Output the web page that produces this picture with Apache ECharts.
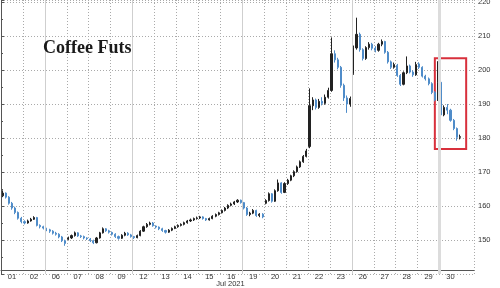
<!DOCTYPE html>
<html>
<head>
<meta charset="utf-8">
<script src="https://cdn.jsdelivr.net/npm/echarts@6/dist/echarts.min.js"></script>
<style>html,body{margin:0;padding:0;background:#fff}#c{width:500px;height:288px}</style>
</head>
<body>
<div id="c"></div>
<script>
// trading days of July 2021 (x-axis labels)
const days = ['01','02','06','07','08','09','12','13','14','15','16','19','20','21','22','23','26','27','28','29','30'];
// y-axis tick labels
const yTicks = [150,160,170,180,190,200,210,220];
const lastPrice = 180.40;

// intraday candles per day: [open, close, low, high]
const jul01 = [[163.0,163.8,162.6,164.6],[163.8,162.6,162.2,164.0],[162.6,160.8,160.4,162.9],[160.8,159.4,158.9,161.2],[159.4,158.1,157.6,159.8],[158.1,156.4,156.0,158.4],[156.4,155.4,154.9,156.8]];
const jul02 = [[155.4,155.0,154.6,155.8],[155.0,155.6,154.8,156.0],[155.6,156.1,155.4,156.5],[156.1,156.6,155.9,157.0],[156.6,154.3,154.0,156.8],[154.3,153.9,153.4,154.6],[153.9,153.5,153.1,154.2]];
const jul06 = [[153.3,153.0,152.6,153.6],[153.0,152.6,152.1,153.3],[152.6,152.0,151.6,152.9],[152.0,151.7,151.3,152.4],[151.7,150.9,150.5,152.0],[150.9,149.8,149.4,151.2],[149.8,149.0,148.3,150.1]];
const jul07 = [[150.2,150.6,149.9,151.0],[150.6,151.3,150.3,151.6],[151.3,152.1,151.0,152.5],[152.1,151.2,150.9,152.3],[151.2,151.0,150.6,151.5],[151.0,150.6,150.2,151.3],[150.6,150.4,150.0,150.8]];
const jul08 = [[150.3,149.8,149.4,150.6],[149.8,149.2,148.8,150.1],[149.2,150.6,149.0,150.9],[150.6,152.1,150.4,152.4],[152.1,153.3,151.9,153.7],[153.3,152.7,152.4,153.5],[152.7,152.3,151.9,153.0]];
const jul09 = [[152.2,151.7,151.3,152.5],[151.7,151.0,150.6,152.0],[151.0,150.5,150.1,151.3],[150.5,151.4,150.3,151.7],[151.4,152.0,151.1,152.4],[152.0,151.5,151.2,152.3],[151.5,151.0,150.7,151.8]];
const jul12 = [[151.0,150.7,150.3,151.2],[150.7,151.3,150.5,151.6],[151.3,152.6,151.1,152.9],[152.6,153.9,152.4,154.2],[153.9,154.6,153.6,155.0],[154.6,155.0,154.3,155.4],[155.0,154.2,153.9,155.3]];
const jul13 = [[154.1,153.8,153.4,154.3],[153.8,153.3,152.9,154.0],[153.3,152.8,152.4,153.6],[152.8,152.3,151.9,153.0],[152.3,152.9,152.1,153.2],[152.9,153.4,152.6,153.7],[153.4,153.9,153.2,154.2]];
const jul14 = [[153.9,154.3,153.6,154.6],[154.3,154.6,154.0,154.9],[154.6,155.1,154.3,155.4],[155.1,155.6,154.8,155.9],[155.6,155.9,155.3,156.3],[155.9,156.3,155.6,156.6],[156.3,156.5,156.0,156.9]];
const jul15 = [[156.5,156.8,156.2,157.1],[156.8,156.3,156.0,157.0],[156.3,155.9,155.6,156.5],[155.9,156.3,155.7,156.6],[156.3,157.0,156.1,157.3],[157.0,157.5,156.7,157.8],[157.5,158.0,157.2,158.3]];
const jul16 = [[158.0,158.7,157.8,159.0],[158.7,159.4,158.4,159.7],[159.4,160.2,159.1,160.5],[160.2,160.6,159.9,161.0],[160.6,161.2,160.3,161.5],[161.2,161.7,160.9,162.0],[161.7,161.0,160.7,161.9]];
const jul19 = [[161.0,159.4,159.0,161.2],[159.4,157.5,157.1,159.7],[157.5,157.9,157.0,158.3],[157.9,158.7,157.6,159.1],[158.7,157.2,156.8,158.9],[157.2,157.6,156.7,157.9],[157.6,156.8,156.4,157.9]];
const jul20 = [[160.8,161.6,160.5,162.0],[161.6,163.6,161.3,164.0],[163.6,161.4,161.0,163.8],[161.4,164.5,161.2,164.9],[164.5,166.8,164.2,167.8],[166.8,164.0,163.6,167.0],[164.0,166.6,163.8,167.0]];
const jul21 = [[166.6,167.6,166.2,168.0],[167.6,168.9,167.3,169.2],[168.9,170.1,168.5,170.5],[170.1,171.5,169.8,171.9],[171.5,173.0,171.2,173.4],[173.0,174.6,172.7,175.0],[174.6,176.2,174.3,176.8]];
const jul22 = [[177.5,189.5,177.0,194.6],[189.5,191.2,188.2,192.0],[191.2,189.0,188.4,191.6],[189.0,190.8,188.6,191.5],[190.8,190.2,189.6,192.0],[190.2,192.0,189.8,192.8],[192.0,194.0,191.6,194.8]];
const jul23 = [[194.0,204.8,193.6,209.6],[204.8,203.0,202.2,205.8],[203.0,200.8,200.2,203.6],[200.8,195.5,194.8,201.2],[195.5,191.8,190.9,196.0],[191.8,190.0,187.4,192.5],[190.0,191.6,189.2,192.2]];
const jul26 = [[199.0,206.5,198.6,207.2],[206.5,210.5,206.0,215.4],[210.5,206.0,205.4,211.0],[206.0,203.4,202.8,206.4],[203.4,206.6,203.0,207.0],[206.6,207.6,206.0,208.2],[207.6,206.4,205.8,208.0]];
const jul27 = [[206.4,205.8,205.2,207.0],[205.8,207.6,205.4,208.0],[207.6,208.4,207.0,209.0],[208.4,205.2,204.8,208.6],[205.2,202.4,201.9,205.6],[202.4,200.8,200.3,202.8],[200.8,201.6,200.4,202.2]];
const jul28 = [[201.4,198.4,198.0,201.8],[198.4,195.8,195.3,198.8],[195.8,199.2,195.5,199.6],[199.2,201.2,198.8,204.0],[201.2,199.4,199.0,201.6],[199.4,198.6,198.0,199.9],[198.6,201.6,198.3,202.4]];
const jul29 = [[201.8,200.8,200.3,202.3],[200.8,198.2,197.8,201.1],[198.2,197.4,196.9,198.6],[197.4,196.0,195.5,197.8],[196.0,193.4,192.9,196.4],[193.4,191.2,190.8,193.8],[191.2,196.4,190.9,202.6]];
const jul30 = [[196.4,186.8,185.9,197.0],[186.8,189.0,186.4,189.6],[189.0,188.2,187.0,190.0],[188.2,185.2,184.8,188.6],[185.2,182.8,182.3,185.6],[182.8,180.2,179.2,183.1],[180.2,180.4,179.6,181.0]];

const dayCandles = [jul01,jul02,jul06,jul07,jul08,jul09,jul12,jul13,jul14,jul15,jul16,jul19,jul20,jul21,jul22,jul23,jul26,jul27,jul28,jul29,jul30];
// days where a new week starts (solid separator before them)
const weekStartDays = ['06','12','19','26'];
const highlightDay = '30';

const PER = 7, PAD = 4;
const candles = dayCandles.flat();
const cats = [];
days.forEach(d => { for (let i = 0; i < PER; i++) cats.push(d); });
for (let i = 0; i < PAD; i++) cats.push('');
const nData = days.length * PER;
const weekIdx = weekStartDays.map(d => days.indexOf(d) * PER);
const hiIdx = days.indexOf(highlightDay) * PER;

const font = 'Liberation Sans';
const chart = echarts.init(document.getElementById('c'), null, {renderer: 'canvas'});
chart.setOption({
  animation: false,
  backgroundColor: '#fff',
  title: {
    text: 'Coffee Futs', left: 43, top: 39, padding: 0,
    textStyle: {fontFamily: 'Liberation Serif', fontWeight: 'bold', fontSize: 18, color: '#1a1a1a'}
  },
  grid: {left: 1, right: 26, top: 0, bottom: 14, outerBoundsMode: 'none', containLabel: false},
  xAxis: [{
    type: 'category', data: cats, boundaryGap: true, offset: -4,
    axisLine: {lineStyle: {color: '#555', width: 1}},
    axisTick: {show: false},
    axisLabel: {interval: (i) => i % PER === 3 && i < nData, fontFamily: font, fontSize: 7.5, color: '#333', margin: 3},
    name: 'Jul 2021', nameLocation: 'middle', nameGap: 10, nameMoveOverlap: false,
    nameTextStyle: {fontFamily: font, fontSize: 7.5, color: '#333', padding: [0, 14, 0, 0]},
    splitLine: {show: true, interval: (i) => i > 0 && i % PER === 0 && i < nData && weekIdx.indexOf(i) < 0 && i !== hiIdx,
      lineStyle: {color: '#aaa', type: [1, 2], width: 1}}
  }, {
    type: 'value', min: 0, max: cats.length, position: 'top', show: false
  }],
  yAxis: {
    type: 'value', position: 'right', min: 140, max: 220.6, interval: 10,
    axisLine: {show: true, lineStyle: {color: '#555'}},
    axisTick: {show: true, length: 3, lineStyle: {color: '#555'}},
    minorTick: {show: true, splitNumber: 2, length: 2, lineStyle: {color: '#555'}},
    axisLabel: {formatter: (v) => yTicks.indexOf(v) >= 0 ? String(v) : '', fontFamily: font, fontSize: 7.5, color: '#333', margin: 4},
    splitLine: {show: true, lineStyle: {color: '#aaa', type: [1, 2], width: 1}}
  },
  series: [{
    type: 'line', xAxisIndex: 1, data: [], silent: true,
    markLine: {
      silent: true, symbol: 'none', label: {show: false}, animation: false,
      data: weekIdx.map(i => ({xAxis: i, lineStyle: {color: '#cfcfcf', width: 1, type: 'solid'}}))
        .concat([{xAxis: hiIdx, lineStyle: {color: '#dcdcdc', width: 3, type: 'solid'}}])
    }
  }, {
    type: 'candlestick', xAxisIndex: 0, data: candles, barWidth: 1.6,
    itemStyle: {color: '#222', color0: '#4f8cc9', borderColor: '#222', borderColor0: '#4f8cc9', borderWidth: 1},
    markLine: {
      silent: true, symbol: 'none', animation: false,
      lineStyle: {opacity: 0},
      label: {show: true, position: 'end', distance: 4, formatter: lastPrice.toFixed(2),
        backgroundColor: '#111', color: '#fff', fontFamily: font, fontSize: 7.5, padding: [2, 3, 2, 3], borderRadius: 2},
      data: [{yAxis: lastPrice}]
    },
    markArea: {
      silent: true,
      itemStyle: {color: 'rgba(0,0,0,0)', borderColor: '#d8303c', borderWidth: 2},
      data: [[{coord: [138, 203.5]}, {coord: [148, 176.8]}]]
    }
  }]
});
</script>
</body>
</html>
